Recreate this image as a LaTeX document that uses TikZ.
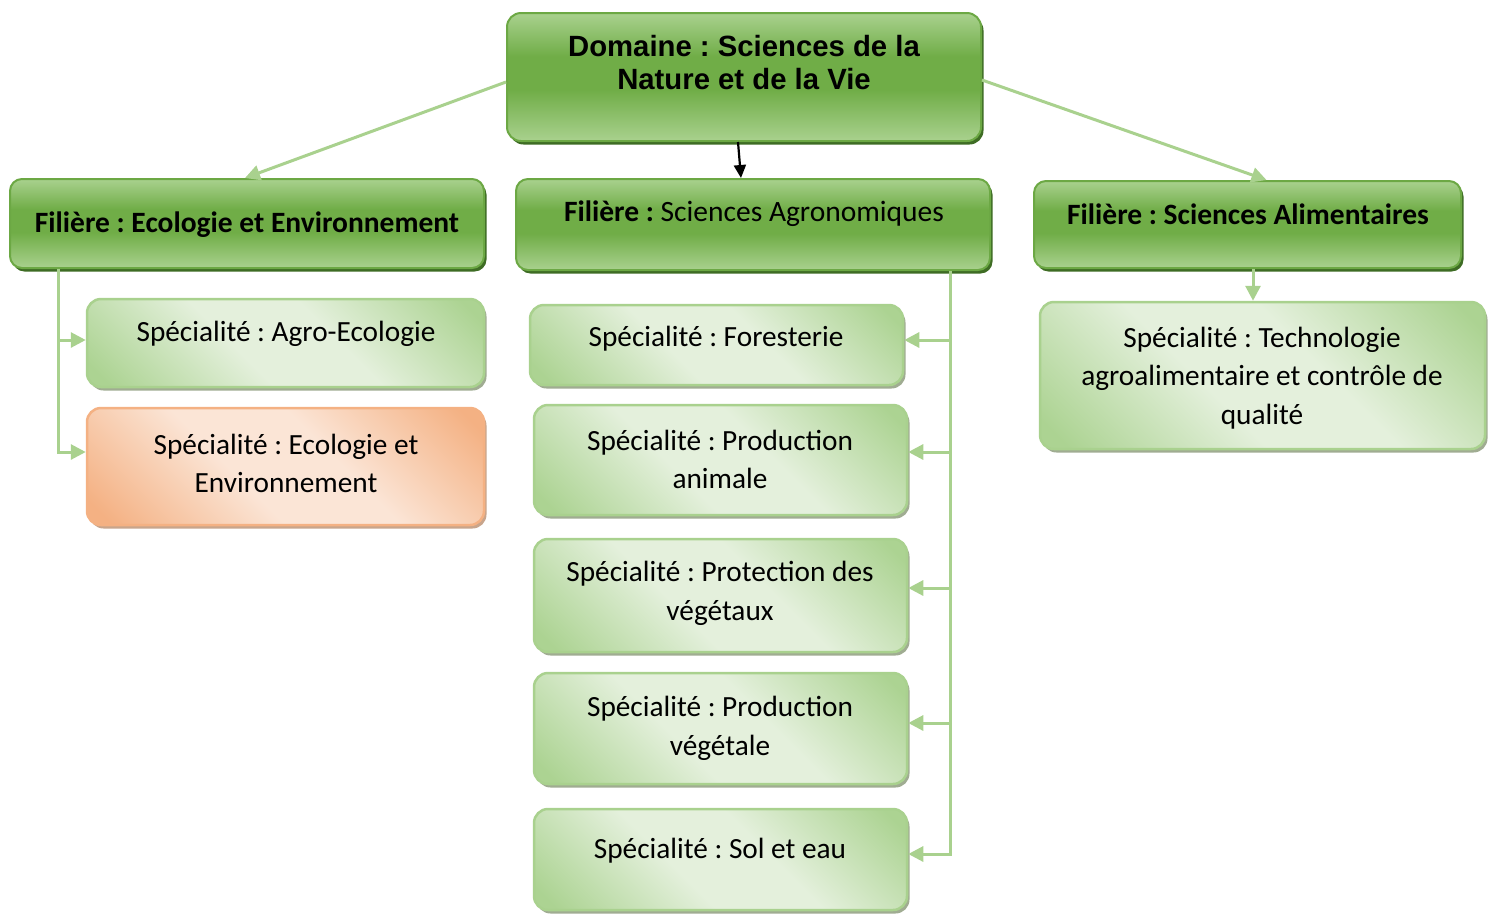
\documentclass[tikz,border=0pt]{standalone}
\usepackage{fontspec}
\setmainfont{Carlito}
\newfontfamily\domfont{Liberation Sans}
\usetikzlibrary{arrows.meta,shadows}
\frenchspacing
\definecolor{fl}{RGB}{169,209,142}
\definecolor{fm}{RGB}{112,173,71}
\definecolor{fborder}{RGB}{108,168,68}
\definecolor{fshadow}{RGB}{62,108,36}
\definecolor{sg}{RGB}{172,211,146}
\definecolor{sp}{RGB}{228,240,220}
\definecolor{sborder}{RGB}{169,209,142}
\definecolor{sshadow}{RGB}{160,172,146}
\definecolor{og}{RGB}{244,177,131}
\definecolor{op}{RGB}{251,229,214}
\definecolor{oshadow}{RGB}{200,165,140}
\definecolor{conncol}{RGB}{169,209,142}
\pgfdeclareverticalshading{filshade}{100bp}{color(0bp)=(fl); color(25bp)=(fl); color(45bp)=(fm); color(58bp)=(fm); color(75bp)=(fl); color(100bp)=(fl)}
\pgfdeclarehorizontalshading{specshade}{100bp}{color(0bp)=(sg); color(18bp)=(sg); color(42bp)=(sp); color(58bp)=(sp); color(82bp)=(sg); color(100bp)=(sg)}
\pgfdeclarehorizontalshading{orshade}{100bp}{color(0bp)=(og); color(18bp)=(og); color(42bp)=(op); color(58bp)=(op); color(82bp)=(og); color(100bp)=(og)}
\tikzset{
  filbox/.style={rectangle, rounded corners=12pt, draw=fborder, line width=2pt, shading=filshade,
    general shadow={shadow xshift=2.5pt, shadow yshift=-3.5pt, fill=fshadow, draw=none}, inner sep=0pt},
  specbox/.style={rectangle, rounded corners=14pt, draw=sborder, line width=2.5pt, shading=specshade, shading angle=45,
    general shadow={shadow xshift=2.5pt, shadow yshift=-3.5pt, fill=sshadow, draw=none}, inner sep=0pt, minimum width=373pt},
  orbox/.style={rectangle, rounded corners=14pt, draw=og, line width=2.5pt, shading=orshade, shading angle=45,
    general shadow={shadow xshift=2.5pt, shadow yshift=-3.5pt, fill=oshadow, draw=none}, inner sep=0pt},
  domtxt/.style={font=\domfont\bfseries\fontsize{29.3}{33}\selectfont, align=center, inner sep=0pt},
  filtxt/.style={font=\bfseries\fontsize{29.5}{34}\selectfont, align=center, inner sep=0pt},
  spectxt/.style={font=\fontsize{29.3}{38.5}\selectfont, align=center, inner sep=0pt},
  conn/.style={draw=conncol, line width=3pt, -{Triangle[length=15pt,width=15pt]}},
  blackconn/.style={draw=black, line width=2.2pt, -{Triangle[length=13pt,width=12pt]}}
}
\begin{document}
\begin{tikzpicture}[x=1pt,y=-1pt]
\useasboundingbox (0,0) rectangle (1496,914);
% boxes
\node[filbox, rounded corners=14pt, minimum width=474pt, minimum height=128pt] (dom) at (744,77) {};
\node[domtxt] (domt) at (744,63) {Domaine : Sciences de la\\Nature et de la Vie};

\node[filbox, minimum width=474pt, minimum height=89pt] (fe) at (247,223.5) {};
\node[filtxt] (fet) at (247,225) {Filière : Ecologie et Environnement};

\node[filbox, minimum width=474pt, minimum height=91pt] (fa) at (753,224.5) {};
\node[filtxt] (fat) at (754,214) {Filière : \mdseries Sciences Agronomiques};

\node[filbox, minimum width=427pt, minimum height=87pt] (fs) at (1247.5,224.5) {};
\node[filtxt] (fst) at (1248,214) {Filière : Sciences Alimentaires};

\node[specbox, minimum width=397pt, minimum height=88pt] (s1) at (285.5,343) {};
\node[spectxt] (s1t) at (286,334) {Spécialité : Agro-Ecologie};

\node[orbox, minimum width=397pt, minimum height=117pt] (s2) at (285.5,466.5) {};
\node[spectxt] (s2t) at (286,463.5) {Spécialité : Ecologie et\\Environnement};

\node[specbox, minimum height=80pt] (s3) at (716.5,345) {};
\node[spectxt] (s3t) at (716,339) {Spécialité : Foresterie};

\node[specbox, minimum height=110pt] (s4) at (720.5,460) {};
\node[spectxt] (s4t) at (720,459.5) {Spécialité : Production\\animale};

\node[specbox, minimum height=113pt] (s5) at (720.5,595.5) {};
\node[spectxt] (s5t) at (720,593.5) {Spécialité : Protection des\\végétaux};

\node[specbox, minimum height=111pt] (s6) at (720.5,728.5) {};
\node[spectxt] (s6t) at (720,728.5) {Spécialité : Production\\végétale};

\node[specbox, minimum height=101pt] (s7) at (720.5,859.5) {};
\node[spectxt] (s7t) at (720,851) {Spécialité : Sol et eau};

\node[specbox, minimum width=445pt, minimum height=147pt] (s8) at (1262.5,375.5) {};
\node[spectxt] (s8t) at (1262,378) {Spécialité : Technologie\\agroalimentaire et contrôle de\\qualité};

% connectors
\draw[conn] ([yshift=-5]dom.west) -- ([xshift=-2]fe.north);
\draw[conn] ([yshift=-3]dom.east) -- ([xshift=19]fs.north);
\draw[blackconn] ([xshift=-6]dom.south) -- ([xshift=-12]fa.north);

\draw[conn] ([xshift=49]fe.south west) |- ([yshift=3]s1.west);
\draw[conn] ([xshift=49]fe.south west) |- ([yshift=14.5]s2.west);

\draw[conn] ([xshift=-41]fa.south east) |- ([yshift=5]s3.east);
\draw[conn] ([xshift=-41]fa.south east) |- ([yshift=8]s4.east);
\draw[conn] ([xshift=-41]fa.south east) |- ([yshift=7.5]s5.east);
\draw[conn] ([xshift=-41]fa.south east) |- ([yshift=5.5]s6.east);
\draw[conn] ([xshift=-41]fa.south east) |- ([yshift=5.5]s7.east);

\draw[conn] ([xshift=5.5]fs.south) -- ([xshift=-9.5]s8.north);
\end{tikzpicture}
\end{document}
